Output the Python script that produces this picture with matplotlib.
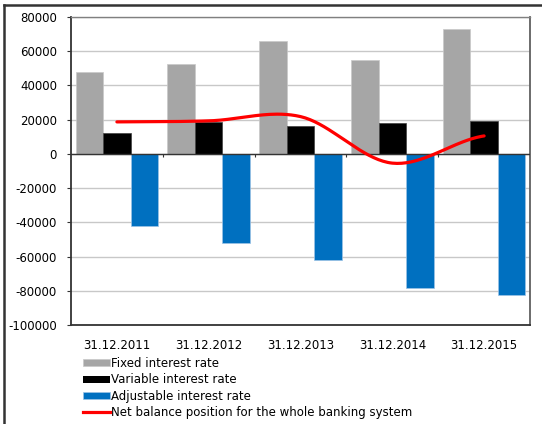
import numpy as np
import matplotlib
matplotlib.use("Agg")
import matplotlib.pyplot as plt
from matplotlib.patches import Patch
from matplotlib.lines import Line2D

categories = ["31.12.2011", "31.12.2012", "31.12.2013", "31.12.2014", "31.12.2015"]
fixed = [48000, 52500, 66000, 55000, 73000]
variable = [12300, 18700, 16400, 18000, 19500]
adjustable = [-42000, -51800, -62100, -78500, -82400]
net = [18700, 19300, 21800, -5400, 10500]
labels = ["Fixed interest rate", "Variable interest rate", "Adjustable interest rate",
          "Net balance position for the whole banking system"]

C_FIX, C_VAR, C_ADJ, C_NET = "#A6A6A6", "#000000", "#0070C0", "#FF0000"

plt.rcParams['font.family'] = ['DejaVu Sans']
plt.rcParams['font.size'] = 8.5

fig = plt.figure(figsize=(5.42, 4.24), dpi=100)
ax = fig.add_axes([71/542, 1-325/424, (530-71)/542, (325-17)/424])

x = np.arange(len(categories))
w = 0.3
ax.bar(x - w, fixed, w, color=C_FIX, edgecolor="#c8c8c8", linewidth=0.5, zorder=2)
ax.bar(x, variable, w, color=C_VAR, edgecolor="#404040", linewidth=0.5, zorder=2)
ax.bar(x + w, adjustable, w, color=C_ADJ, edgecolor="#9dc3e6", linewidth=0.5, zorder=2)

# smooth line (Catmull-Rom through the data points)
def catmull(xs, ys, n=40):
    xs = np.asarray(xs, float); ys = np.asarray(ys, float)
    px = np.concatenate([[2*xs[0]-xs[1]], xs, [2*xs[-1]-xs[-2]]])
    py = np.concatenate([[ys[0]], ys, [ys[-1]]])
    outx, outy = [], []
    for i in range(1, len(px)-2):
        t = np.linspace(0, 1, n)
        p0x, p1x, p2x, p3x = px[i-1:i+3]
        p0y, p1y, p2y, p3y = py[i-1:i+3]
        def cr(a, b, c, d):
            return 0.5*((2*b) + (-a + c)*t + (2*a - 5*b + 4*c - d)*t**2 + (-a + 3*b - 3*c + d)*t**3)
        outx.append(cr(p0x, p1x, p2x, p3x)); outy.append(cr(p0y, p1y, p2y, p3y))
    return np.concatenate(outx), np.concatenate(outy)

sx, sy = catmull(x, net)
ax.plot(sx, sy, color=C_NET, linewidth=2.3, solid_capstyle="round", zorder=4)

ax.set_xlim(-0.5, len(categories) - 0.5)
ax.set_ylim(-100000, 80000)
ax.set_yticks(np.arange(-100000, 80001, 20000))
ax.set_yticklabels([str(v) for v in range(-100000, 80001, 20000)])
ax.yaxis.grid(True, color="#c8c8c8", linewidth=1, zorder=0)
ax.set_axisbelow(True)

ax.set_xticks(x)
ax.set_xticklabels(categories)
ax.tick_params(axis="x", length=0, pad=10)
ax.tick_params(axis="y", length=3, direction="out", color="#333333", pad=7)

ax.axhline(0, color="#333333", linewidth=1, zorder=3)
ax.vlines(x[:-1] + 0.5, -1800, 0, color="#333333", linewidth=0.8, zorder=3)
ax.vlines([len(categories) - 0.5], -1800, 0, color="#333333", linewidth=0.8, zorder=3)

ax.spines["left"].set_color("#333333")
ax.spines["left"].set_linewidth(1.3)
ax.spines["bottom"].set_color("#333333")
ax.spines["bottom"].set_linewidth(1.3)
ax.spines["top"].set_color("#808080")
ax.spines["top"].set_linewidth(1.0)
ax.spines["right"].set_color("#606060")
ax.spines["right"].set_linewidth(1.3)

handles = [Patch(facecolor=C_FIX, edgecolor="#c8c8c8", linewidth=0.5),
           Patch(facecolor=C_VAR),
           Patch(facecolor=C_ADJ, edgecolor="#9dc3e6", linewidth=0.5),
           Line2D([0], [0], color=C_NET, linewidth=2.3)]
fig.legend(handles, labels, loc="upper left", bbox_to_anchor=(83/542, 1-357/424),
           frameon=False, borderpad=0, borderaxespad=0, handlelength=2.3,
           handleheight=0.55, handletextpad=0.1, labelspacing=0.28, fontsize=8.5)

# outer frame lines (left and top)
fig.add_artist(Line2D([4/542, 4/542], [0, 1-5/424], color="#333333", linewidth=1.8,
                      transform=fig.transFigure))
fig.add_artist(Line2D([4/542, 1], [1-5/424, 1-5/424], color="#333333", linewidth=1.8,
                      transform=fig.transFigure))

fig.savefig("out.png", dpi=100)
